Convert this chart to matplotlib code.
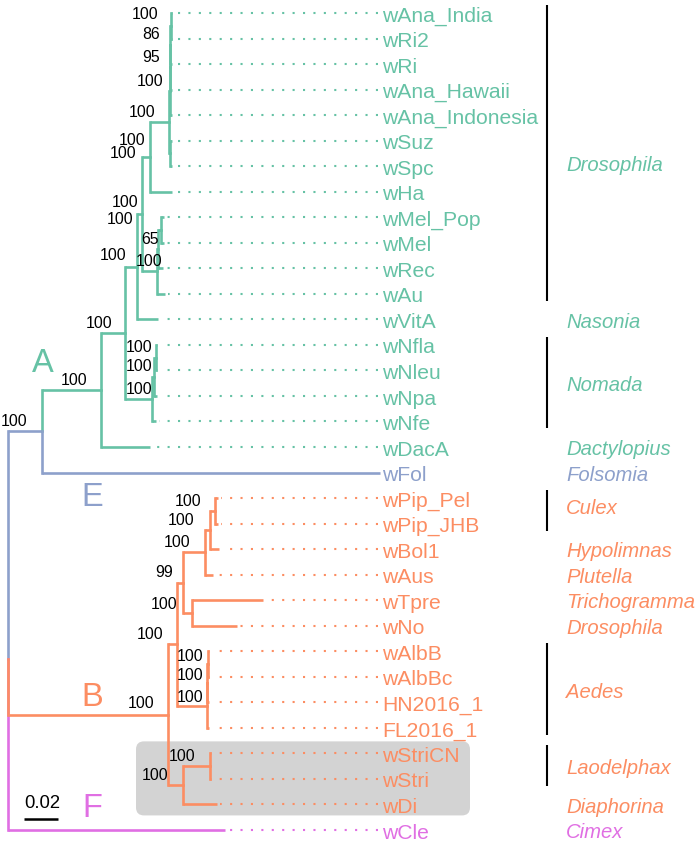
import re
import matplotlib
matplotlib.use('Agg')
import matplotlib.pyplot as plt
from matplotlib.patches import FancyBboxPatch

plt.rcParams['font.family'] = ['Liberation Sans', 'DejaVu Sans']

# ---------------------------------------------------------------- data
# Tree (Newick, branch lengths in substitutions/site), assembled from parts
ANA = ("(((((wAna_India:0.0006,wRi2:0.0006)n1:0.0003,wRi:0.0009)n2:0.0001,"
       "wAna_Hawaii:0.0012)n3:0.0003,wAna_Indonesia:0.0012)n4:0.0003,"
       "(wSuz:0.0009,wSpc:0.0009)ns:0.0006)C1")
MEL = "(((wMel_Pop:0.0018,wMel:0.0018)M2:0.0015,wRec:0.0026)M1:0.0009,wAu:0.0047)M0"
NOM = "(((wNfla:0.0006,wNleu:0.0006)NM2:0.0009,wNpa:0.0015)NM1:0.0012,wNfe:0.0021)NM0"
CLADE_A = ("(((((" + ANA + ":0.0112,wHa:0.0129)Na:0.0047," + MEL + ":0.0088)Nb:0.0029,"
           "wVitA:0.0124)Nc:0.0071," + NOM + ":0.0159)Nd:0.0141,wDacA:0.0288)A")
PIP = "(((wPip_Pel:0.0018,wPip_JHB:0.0018)Pip:0.0029,wBol1:0.0053)PB:0.0029,wAus:0.0047)NB4"
TN = "(wTpre:0.0418,wNo:0.0265)TN"
AED = "(((wAlbB:0.0006,wAlbBc:0.0006)AE2:0.0003,HN2016_1:0.0009)AE1:0.0003,FL2016_1:0.0012)AE0"
LAO = "((wStriCN:0.0006,wStri:0.0006)Lao:0.0159,wDi:0.0200)NB2"
CLADE_B = ("(((" + PIP + ":0.0129," + TN + ":0.0053)NB3:0.0035," + AED +
           ":0.0176)NB1:0.0053," + LAO + ":0.0088)B")
TREE = "((" + CLADE_A + ":0.0347,wFol:0.1988)AE:0.0200," + CLADE_B + ":0.0941,wCle:0.1276)root;"

# bootstrap supports per internal node
SUPPORT = {
    'n1': ['100'], 'n2': ['86'], 'n3': ['95'], 'n4': ['100'], 'C1': ['100'],
    'Na': ['100', '100'], 'Nb': ['100', '100'], 'Nc': ['100'],
    'M1': ['65'], 'M0': ['100'], 'Nd': ['100'],
    'NM2': ['100'], 'NM1': ['100'], 'NM0': ['100'],
    'A': ['100'], 'AE': ['100'], 'B': ['100'], 'NB1': ['100'], 'NB3': ['99'],
    'NB4': ['100'], 'PB': ['100'], 'Pip': ['100'], 'TN': ['100'],
    'AE2': ['100'], 'AE1': ['100'], 'AE0': ['100'], 'NB2': ['100'], 'Lao': ['100'],
}

# host genus groups: (name, first tip, last tip, bracket)
HOSTS = [
    ('Drosophila', 'wAna_India', 'wAu', True),
    ('Nasonia', 'wVitA', 'wVitA', False),
    ('Nomada', 'wNfla', 'wNfe', True),
    ('Dactylopius', 'wDacA', 'wDacA', False),
    ('Folsomia', 'wFol', 'wFol', False),
    ('Culex', 'wPip_Pel', 'wPip_JHB', True),
    ('Hypolimnas', 'wBol1', 'wBol1', False),
    ('Plutella', 'wAus', 'wAus', False),
    ('Trichogramma', 'wTpre', 'wTpre', False),
    ('Drosophila', 'wNo', 'wNo', False),
    ('Aedes', 'wAlbB', 'FL2016_1', True),
    ('Laodelphax', 'wStriCN', 'wStri', True),
    ('Diaphorina', 'wDi', 'wDi', False),
    ('Cimex', 'wCle', 'wCle', False),
]

# supergroups: letter, subtree root, colour
SUPERGROUPS = [('E', 'AE', '#8da0cb'), ('A', 'A', '#66c2a5'),
               ('B', 'B', '#fc8d62'), ('F', 'wCle', '#e06fe3')]
HIGHLIGHT = ['wStriCN', 'wStri', 'wDi']
SCALE_LEN = 0.02

# ---------------------------------------------------------------- layout
W, H = 700, 842
X0, PPU = 8.0, 1700.0        # root x (px) and px per substitution unit
Y0, ROW = 13.0, 25.53        # first tip y (px) and tip spacing (px)
LABEL_X = 382                 # px where tip names start
LW = 1.9
FS_TIP, FS_HOST, FS_SUP = 15.2, 14.6, 11.4
SUP_DEFAULT = (-14, -11)      # right edge / vertical centre offset (px)
SUP_OFFSETS = {
    ('n1', 0): (-12, -12), ('n2', 0): (-10, -12), ('n3', 0): (-10, -11),
    ('n4', 0): (-6, -11), ('Na', 0): (-5, -18), ('Na', 1): (-14, -5),
    ('Nb', 0): (-4, -13), ('Nb', 1): (-9, 4), ('Nc', 0): (-11, -12),
    ('M1', 0): (0, -11), ('M0', 0): (5, -11), ('Nd', 0): (-13, -11),
    ('NM2', 0): (-3, -11), ('NM1', 0): (-2, -11), ('NM0', 0): (0, -11),
    ('AE', 0): (-15, -11), ('B', 0): (-14, -12), ('NB3', 0): (-10, -11),
    ('TN', 0): (-15, -10), ('PB', 0): (-15, -11), ('Pip', 0): (-13, -11),
    ('AE2', 0): (-5, -9), ('AE1', 0): (-4, -9), ('AE0', 0): (-4, -9),
    ('NB2', 0): (-15, -11), ('Lao', 0): (-15, -11),
}
HOST_DY = {0: 9, 5: -5}
LETTER_POS = {'A': (42.5, 360), 'E': (92, 494), 'B': (92, 694), 'F': (92, 805)}
PT = 100 / 72


class Node:
    def __init__(self):
        self.children, self.name, self.length = [], '', 0.0
        self.x = self.y = 0.0
        self.color = None


def parse_newick(s):
    s = s.strip().rstrip(';')
    pos = 0

    def parse():
        nonlocal pos
        nd = Node()
        if s[pos] == '(':
            pos += 1
            while True:
                nd.children.append(parse())
                c = s[pos]
                pos += 1
                if c == ')':
                    break
        m = re.match(r'[^:,();]*', s[pos:])
        nd.name = m.group(0)
        pos += len(nd.name)
        if pos < len(s) and s[pos] == ':':
            pos += 1
            m = re.match(r'[0-9.eE+-]+', s[pos:])
            nd.length = float(m.group(0))
            pos += len(m.group(0))
        return nd
    return parse()


root = parse_newick(TREE)
leaves, nodes = [], {}
color_of = {r: c for _, r, c in SUPERGROUPS}


def layout(nd, x, col):
    nd.x = x
    nd.color = color_of.get(nd.name, col)
    nodes[nd.name] = nd
    if not nd.children:
        nd.y = len(leaves)
        leaves.append(nd)
    else:
        for ch in nd.children:
            layout(ch, x + ch.length, nd.color)
        nd.y = sum(c.y for c in nd.children) / len(nd.children)


layout(root, 0.0, '#8da0cb')


def ux(px):
    return (px - X0) / PPU


def uy(py):
    return (py - Y0) / ROW


fig = plt.figure(figsize=(W / 100, H / 100), dpi=100)
bg = fig.add_axes([0, 0, 1, 1])
bg.set_xlim(0, W)
bg.set_ylim(H, 0)
bg.axis('off')
ax = fig.add_axes([0, 0, 1, 1])
ax.set_xlim(ux(0), ux(W))
ax.set_ylim(uy(H), uy(0))
ax.axis('off')
ax.patch.set_alpha(0)

# highlight box (px axes, behind the tree)
hy0 = Y0 + nodes[HIGHLIGHT[0]].y * ROW - 12
hy1 = Y0 + nodes[HIGHLIGHT[-1]].y * ROW + 11
bg.add_patch(FancyBboxPatch((136, hy0), 334, hy1 - hy0,
                            boxstyle='round,pad=0,rounding_size=8',
                            fc='#d3d3d3', ec='none', zorder=0))


def draw(nd):
    for ch in nd.children:
        ax.plot([nd.x, ch.x], [ch.y, ch.y], color=ch.color, lw=LW,
                solid_capstyle='butt', zorder=3)
    for ch in sorted(nd.children, key=lambda c: -abs(c.y - nd.y)):
        ax.plot([nd.x, nd.x], [nd.y, ch.y], color=ch.color, lw=LW,
                solid_capstyle='projecting', zorder=3)
    for ch in nd.children:
        draw(ch)


draw(root)

# tip leaders and names
for lf in leaves:
    if lf.name == 'wFol':
        ax.plot([lf.x, ux(LABEL_X - 2)], [lf.y, lf.y], color=lf.color, lw=LW,
                solid_capstyle='butt', zorder=3)
    else:
        ax.plot([ux(LABEL_X - 4), lf.x + 3 / PPU], [lf.y, lf.y], color=lf.color,
                lw=1.5, linestyle=(0, (1, 4)), dash_capstyle='butt', zorder=2)
    ax.annotate(lf.name, xy=(ux(LABEL_X), lf.y), xytext=(0, -(0.358 * FS_TIP * PT + 1)),
                textcoords='offset pixels', ha='left', va='baseline',
                fontsize=FS_TIP, color=lf.color, zorder=4)

# supports
for name, labs in SUPPORT.items():
    nd = nodes[name]
    for i, t in enumerate(labs):
        dx, dy = SUP_OFFSETS.get((name, i), SUP_DEFAULT)
        base = dy + 0.358 * FS_SUP * PT
        ax.annotate(t, xy=(nd.x, nd.y), xytext=(dx, -base), textcoords='offset pixels',
                    ha='right', va='baseline', fontsize=FS_SUP, color='black', zorder=5)

# host brackets and names
for i, (host, first, last, bracket) in enumerate(HOSTS):
    a, b = nodes[first], nodes[last]
    if bracket:
        ax.plot([ux(547), ux(547)], [a.y - 8 / ROW, b.y + 7 / ROW], color='black',
                lw=1.5, solid_capstyle='butt')
    ym = (a.y + b.y) / 2
    ax.annotate(host, xy=(ux(566), ym),
                xytext=(0, -(HOST_DY.get(i, 0) + 0.358 * FS_HOST * PT + 1)),
                textcoords='offset pixels', ha='left', va='baseline',
                fontsize=FS_HOST, style='italic', color=a.color)

# supergroup letters
for letter, rname, col in SUPERGROUPS:
    px, py = LETTER_POS[letter]
    bg.text(px, py + 0.358 * 23.5 * PT, letter, fontsize=23.5, color=col,
            ha='center', va='baseline', zorder=5)

# scale bar
sx = ux(24)
ax.plot([sx, sx + SCALE_LEN], [uy(819), uy(819)], color='black', lw=1.8,
        solid_capstyle='butt')
ax.annotate('0.02', xy=(sx + SCALE_LEN / 2, uy(801.5)), xytext=(1, -0.358 * 13.3 * PT),
            textcoords='offset pixels', ha='center', va='baseline', fontsize=13.3)

fig.savefig('out.png', dpi=100)
